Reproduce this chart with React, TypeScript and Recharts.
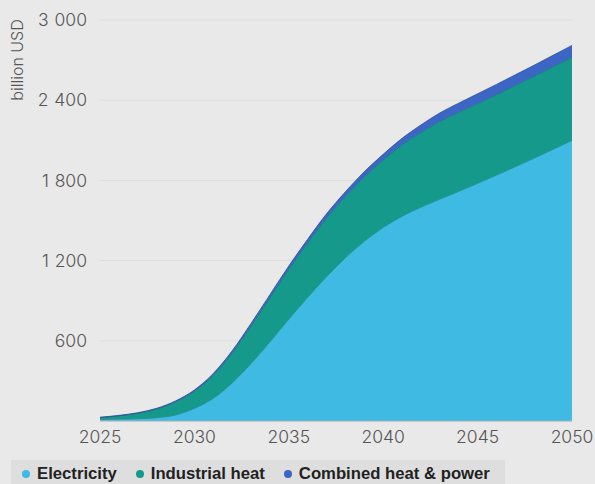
import React from 'react'
import { AreaChart, Area, XAxis, YAxis, CartesianGrid } from 'recharts'

// investment by use, billion USD per year
const years = [
  2025, 2026, 2027, 2028, 2029, 2030, 2031, 2032, 2033, 2034, 2035, 2036, 2037,
  2038, 2039, 2040, 2041, 2042, 2043, 2044, 2045, 2046, 2047, 2048, 2049, 2050,
]
const electricity = [
  12, 14, 17, 25, 45, 95, 170, 285, 430, 592, 762, 925, 1080,
  1222, 1345, 1448, 1532, 1600, 1660, 1718, 1778, 1840, 1903, 1967, 2033, 2100,
]
const industrialHeat = [
  14, 25, 41, 65, 98, 128, 174, 226, 283, 333, 375, 409, 440,
  460, 483, 506, 536, 560, 583, 592, 598, 603, 609, 614, 619, 623,
]
const combinedHeatPower = [
  2, 3, 4, 5, 7, 9, 11, 14, 17, 20, 23, 26, 30,
  33, 37, 41, 47, 55, 62, 68, 72, 75, 78, 81, 84, 87,
]
const xTicks = [2025, 2030, 2035, 2040, 2045, 2050]
const yTicks = [600, 1200, 1800, 2400, 3000]

const series = [
  { key: 'electricity', name: 'Electricity', fill: '#3fbbe3', stroke: '#1f6f8a' },
  { key: 'industrial', name: 'Industrial heat', fill: '#14998a', stroke: '#0d5f58' },
  { key: 'chp', name: 'Combined heat & power', fill: '#3b66c6', stroke: '#2a4a9a' },
]

const data = years.map((year, i) => ({
  year,
  electricity: electricity[i],
  industrial: industrialHeat[i],
  chp: combinedHeatPower[i],
}))

// thousands separated by a narrow space: 3 000
const fmt = (v: number) => String(v).replace(/\B(?=(\d{3})+(?!\d))/g, '\u2004')

const tickFont = { fontFamily: 'Inter', fontWeight: 300, fontSize: 17.5, fill: '#555' }

const AxisTitle = () => (
  <text
    transform="translate(23,60) rotate(-90)"
    textAnchor="middle"
    style={{ fontFamily: 'Inter', fontWeight: 300, fontSize: 16, fill: '#555' }}
  >
    billion USD
  </text>
)

export default function App() {
  return (
    <div
      style={{
        position: 'absolute',
        left: 0,
        top: 0,
        width: 595,
        height: 484,
        background: '#e9e9e9',
        overflow: 'hidden',
      }}
    >
      <AreaChart width={595} height={484} data={data} margin={{ top: 20, right: 23, left: 0, bottom: 0 }}>
        <CartesianGrid vertical={false} stroke="#dddddd" />
        <XAxis
          dataKey="year"
          type="number"
          domain={[2025, 2050]}
          ticks={xTicks}
          height={63}
          tickSize={0}
          tickMargin={10}
          axisLine={{ stroke: '#9fb3ba' }}
          tick={tickFont}
        />
        <YAxis
          domain={[0, 3000]}
          ticks={yTicks}
          width={100}
          tickSize={0}
          tickMargin={13}
          axisLine={false}
          tickFormatter={fmt}
          tick={tickFont}
          label={<AxisTitle />}
        />
        {series.map((s) => (
          <Area
            key={s.key}
            type="monotone"
            dataKey={s.key}
            name={s.name}
            stackId="1"
            fill={s.fill}
            fillOpacity={1}
            stroke={s.stroke}
            strokeWidth={0.8}
            isAnimationActive={false}
          />
        ))}
      </AreaChart>
      <div
        style={{
          position: 'absolute',
          left: 11,
          top: 460,
          width: 494,
          height: 24,
          paddingTop: 3,
          boxSizing: 'border-box',
          background: '#dedede',
          display: 'flex',
          alignItems: 'center',
          fontFamily: 'Liberation Sans',
          fontWeight: 700,
          fontSize: 16.7,
          color: '#222',
        }}
      >
        {series.map((s, i) => (
          <div key={s.key} style={{ display: 'flex', alignItems: 'center', marginLeft: i === 0 ? 11 : 19 }}>
            <span
              style={{
                width: 8,
                height: 8,
                borderRadius: '50%',
                background: s.fill,
                display: 'inline-block',
                marginRight: 7,
              }}
            />
            {s.name}
          </div>
        ))}
      </div>
    </div>
  )
}
